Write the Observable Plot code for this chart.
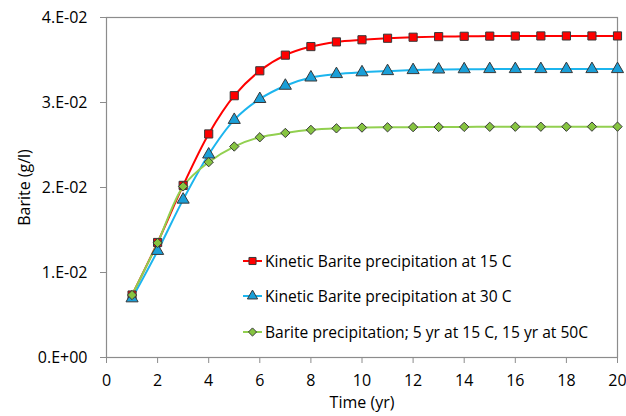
<!DOCTYPE html>
<html>
<head>
<meta charset="utf-8">
<script src="https://cdn.jsdelivr.net/npm/d3@7"></script>
<script src="https://cdn.jsdelivr.net/npm/@observablehq/plot@0.6"></script>
<style>
  html, body { margin: 0; padding: 0; background: #fff; }
  #wrap { position: relative; width: 626px; height: 416px; font-family: "Open Sans", Lato, sans-serif; }
  #legend { position: absolute; left: 242px; top: 243px; font-size: 15.6px; color: #000; }
  .row { display: flex; align-items: center; height: 35.5px; }
  .row svg { margin-right: 2px; }
</style>
</head>
<body>
<div id="wrap"></div>
<script>
const years = [1,2,3,4,5,6,7,8,9,10,11,12,13,14,15,16,17,18,19,20];
const kinetic15 = [0.00735,0.01353,0.02025,0.0263,0.0308,0.03373,0.03557,0.03658,0.03713,0.03738,0.03756,0.03768,0.03775,0.03779,0.03781,0.03782,0.03783,0.03783,0.03783,0.03783];
const kinetic30 = [0.00696,0.01254,0.01857,0.02388,0.02795,0.03041,0.03197,0.03294,0.03334,0.03355,0.03369,0.03381,0.03388,0.03391,0.03393,0.03393,0.03393,0.03393,0.03393,0.03393];
const mixed = [0.00735,0.01348,0.02013,0.02298,0.02482,0.02591,0.02642,0.02678,0.02696,0.02705,0.02708,0.0271,0.02712,0.02713,0.02714,0.02715,0.02715,0.02715,0.02716,0.02716];
const seriesNames = ["Kinetic Barite precipitation at 15 C","Kinetic Barite precipitation at 30 C","Barite precipitation; 5 yr at 15 C, 15 yr at 50C"];
const xTicks = [0,2,4,6,8,10,12,14,16,18,20];
const yTicks = [0,0.01,0.02,0.03,0.04];
const yTickLabels = ["0.E+00","1.E-02","2.E-02","3.E-02","4.E-02"];

const series = [
  {name: seriesNames[0], values: kinetic15, line: "#ff0000", fill: "#ff0000", symbol: "square", r: 4.6, lr: 4.0},
  {name: seriesNames[1], values: kinetic30, line: "#1cb5ee", fill: "#1a9fd8", symbol: "triangle", r: 4.5, lr: 3.8},
  {name: seriesNames[2], values: mixed, line: "#92d050", fill: "#86c440", symbol: "diamond2", r: 4.2, lr: 3.7}
];

const marks = [
  Plot.frame({stroke: "#8c8c8c", strokeWidth: 1.2}),
  Plot.axisX({ticks: xTicks, tickSize: 6, tickPadding: 11, stroke: "#8c8c8c", fill: "#000",
    label: "Time (yr)", labelAnchor: "center", labelArrow: "none", labelOffset: 50}),
  Plot.axisY({ticks: yTicks, tickSize: 6, tickPadding: 13, stroke: "#8c8c8c", fill: "#000",
    tickFormat: d => yTickLabels[yTicks.indexOf(d)],
    label: "Barite (g/l)", labelAnchor: "center", labelArrow: "none", labelOffset: 88})
];
for (const s of series) {
  const data = years.map((x, i) => ({x, y: s.values[i]}));
  marks.push(Plot.line(data, {x: "x", y: "y", stroke: s.line, strokeWidth: 2, curve: "catmull-rom"}));
}
for (const s of series) {
  const data = years.map((x, i) => ({x, y: s.values[i]}));
  marks.push(Plot.dot(data, {x: "x", y: "y", symbol: s.symbol, r: s.r, fill: s.fill, stroke: "#383838", strokeWidth: 1}));
}

const chart = Plot.plot({
  width: 626, height: 416,
  marginLeft: 106, marginRight: 9, marginTop: 17, marginBottom: 59,
  style: {fontFamily: "'Open Sans', Lato, sans-serif", fontSize: "16px", color: "#000", background: "#fff", overflow: "visible"},
  x: {domain: [0, 20]},
  y: {domain: [0, 0.04]},
  marks
});
const wrap = document.getElementById("wrap");
wrap.appendChild(chart);

// Legend overlay
const legend = d3.select(wrap).append("div").attr("id", "legend");
const symMap = {square: d3.symbolSquare, triangle: d3.symbolTriangle, diamond2: d3.symbolDiamond2};
for (const s of series) {
  const row = legend.append("div").attr("class", "row");
  const svg = row.append("svg").attr("width", 21).attr("height", 16);
  svg.append("line").attr("x1", 1).attr("x2", 20).attr("y1", 8).attr("y2", 8).attr("stroke", s.line).attr("stroke-width", 2);
  svg.append("path").attr("transform", "translate(10.5,8)")
    .attr("d", d3.symbol(symMap[s.symbol], Math.PI * s.lr * s.lr)())
    .attr("fill", s.fill).attr("stroke", "#383838").attr("stroke-width", 1);
  row.append("span").text(s.name);
}
</script>
</body>
</html>
